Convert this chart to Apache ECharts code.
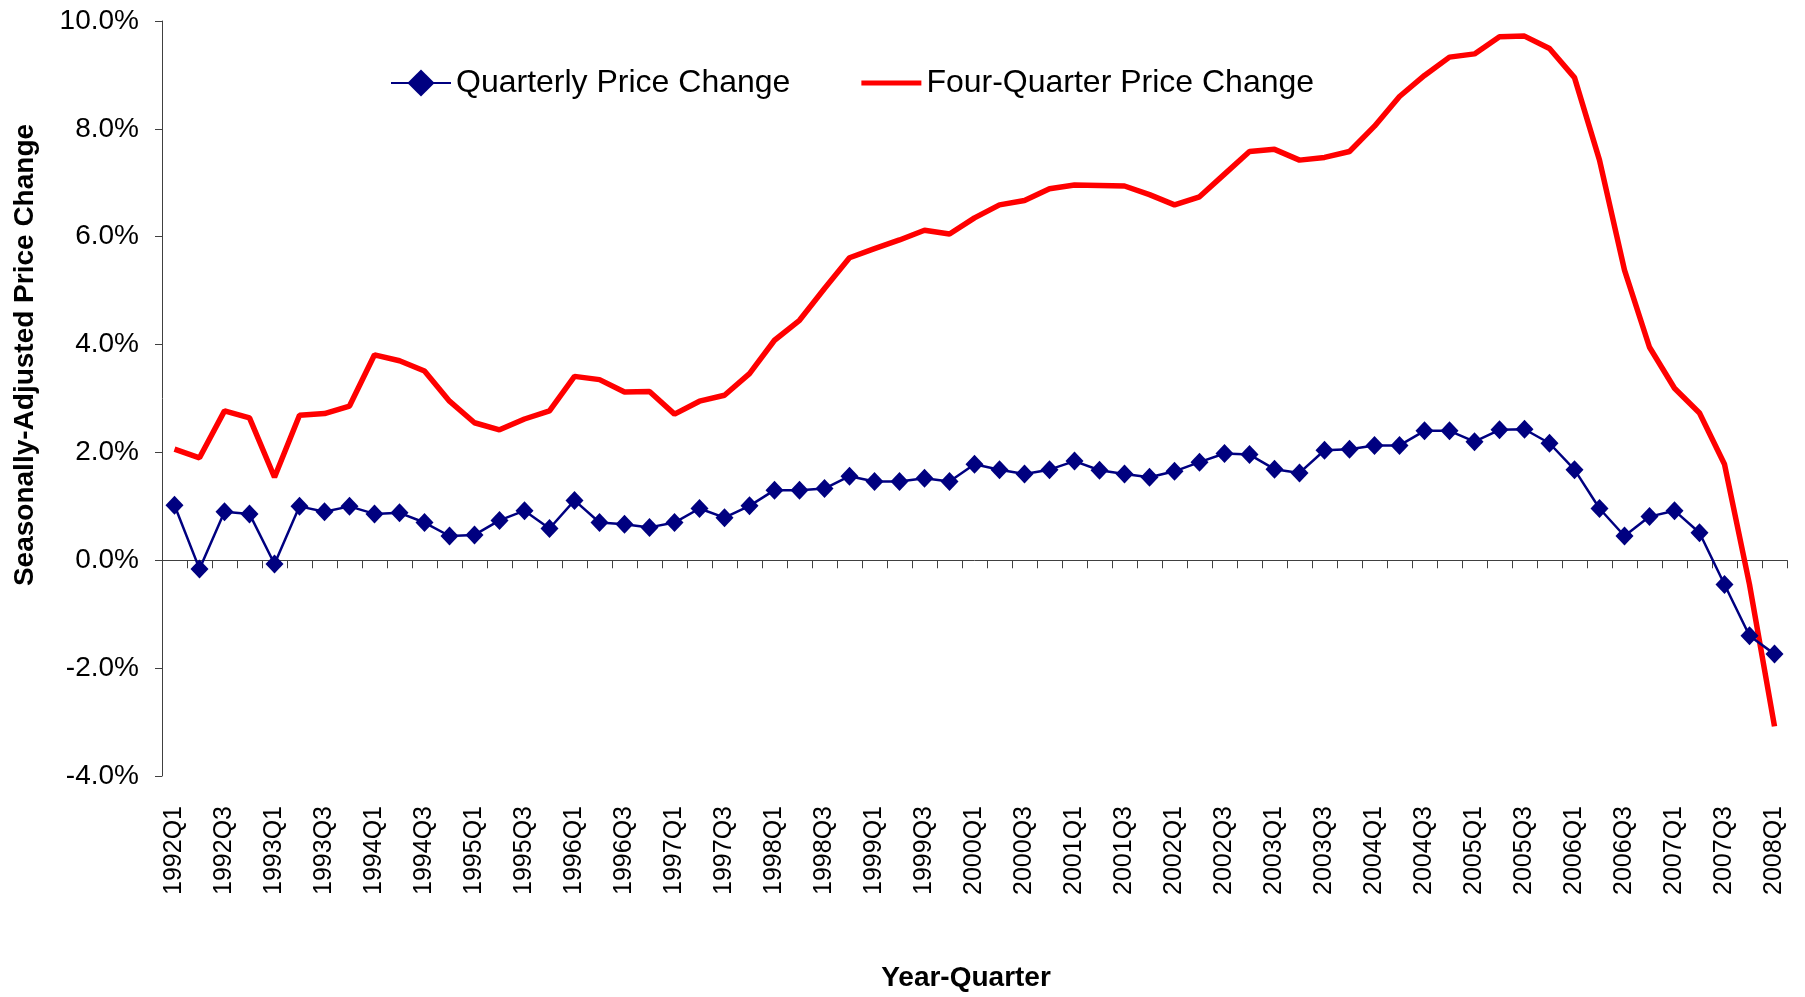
<!DOCTYPE html>
<html>
<head>
<meta charset="utf-8">
<title>Seasonally-Adjusted Price Change</title>
<script src="https://cdn.jsdelivr.net/npm/echarts@6/dist/echarts.min.js"></script>
<style>
  html, body { margin: 0; padding: 0; background: #fff; }
  #chart { width: 1805px; height: 997px; }
</style>
</head>
<body>
<div id="chart"></div>
<script>
// year-quarter categories, 1992Q1 .. 2008Q1
const quarters = [
  '1992Q1','1992Q2','1992Q3','1992Q4','1993Q1','1993Q2','1993Q3','1993Q4',
  '1994Q1','1994Q2','1994Q3','1994Q4','1995Q1','1995Q2','1995Q3','1995Q4',
  '1996Q1','1996Q2','1996Q3','1996Q4','1997Q1','1997Q2','1997Q3','1997Q4',
  '1998Q1','1998Q2','1998Q3','1998Q4','1999Q1','1999Q2','1999Q3','1999Q4',
  '2000Q1','2000Q2','2000Q3','2000Q4','2001Q1','2001Q2','2001Q3','2001Q4',
  '2002Q1','2002Q2','2002Q3','2002Q4','2003Q1','2003Q2','2003Q3','2003Q4',
  '2004Q1','2004Q2','2004Q3','2004Q4','2005Q1','2005Q2','2005Q3','2005Q4',
  '2006Q1','2006Q2','2006Q3','2006Q4','2007Q1','2007Q2','2007Q3','2007Q4',
  '2008Q1'
]

// percent values
const quarterlyChange = [
  1.02, -0.16, 0.90, 0.86, -0.07, 1.00, 0.90, 1.00,
  0.86, 0.88, 0.70, 0.45, 0.47, 0.74, 0.92, 0.59,
  1.11, 0.70, 0.67, 0.61, 0.70, 0.96, 0.79, 1.01,
  1.30, 1.30, 1.33, 1.56, 1.46, 1.46, 1.52, 1.46,
  1.78, 1.68, 1.60, 1.68, 1.84, 1.67, 1.60, 1.54,
  1.65, 1.82, 1.98, 1.96, 1.69, 1.62, 2.04, 2.06,
  2.13, 2.13, 2.40, 2.40, 2.20, 2.42, 2.43, 2.17,
  1.68, 0.96, 0.45, 0.81, 0.92, 0.51, -0.45, -1.40,
  -1.74
]

const fourQuarterChange = [
  2.06, 1.90, 2.77, 2.64, 1.54, 2.69, 2.72, 2.86,
  3.81, 3.70, 3.51, 2.95, 2.55, 2.42, 2.62, 2.77,
  3.41, 3.35, 3.12, 3.13, 2.71, 2.95, 3.06, 3.46,
  4.08, 4.45, 5.04, 5.61, 5.78, 5.94, 6.12, 6.05,
  6.35, 6.59, 6.67, 6.89, 6.96, 6.95, 6.94, 6.78,
  6.59, 6.74, 7.16, 7.58, 7.62, 7.42, 7.47, 7.58,
  8.05, 8.60, 8.99, 9.33, 9.39, 9.71, 9.72, 9.49,
  8.95, 7.42, 5.38, 3.95, 3.19, 2.73, 1.78, -0.45,
  -3.08
]

const yTicks = { min: -4, max: 10, interval: 2 }

const font = 'Liberation Sans, Arial, sans-serif'
let mychart = echarts.init(document.getElementById('chart'), null, { renderer: 'canvas' })

let options = {
  backgroundColor: '#ffffff',
  animation: false,
  textStyle: { fontFamily: font, color: '#000' },
  grid: {
    left: 162,
    right: 18,
    top: 21,
    bottom: 221
  },
  legend: {
    left: 385,
    top: 62,
    itemWidth: 60,
    itemHeight: 34,
    itemGap: 71,
    textStyle: { fontFamily: font, fontSize: 32, color: '#000' },
    data: [
      { name: 'Quarterly Price Change' },
      // plain thick line, no marker, like the series itself
      { name: 'Four-Quarter Price Change', icon: 'path://M0,0 L60,0 L60,5 L0,5 Z' }
    ]
  },
  graphic: [
    {
      type: 'text',
      x: 25,
      y: 355,
      rotation: Math.PI / 2,
      style: {
        text: 'Seasonally-Adjusted Price Change',
        font: 'bold 28px ' + font,
        fill: '#000',
        textAlign: 'center',
        textVerticalAlign: 'middle'
      }
    },
    {
      type: 'text',
      x: 966,
      y: 978,
      style: {
        text: 'Year-Quarter',
        font: 'bold 28px ' + font,
        fill: '#000',
        textAlign: 'center',
        textVerticalAlign: 'middle'
      }
    }
  ],
  xAxis: [
    {
      type: 'category',
      data: quarters,
      boundaryGap: true,
      axisLine: { onZero: true, lineStyle: { color: '#404040', width: 1 } },
      axisTick: { show: true, interval: 0, length: 8, lineStyle: { color: '#404040' } },
      axisLabel: { show: false },
      splitLine: { show: false }
    },
    {
      type: 'category',
      data: quarters,
      position: 'bottom',
      boundaryGap: true,
      axisLine: { show: false, onZero: false },
      axisTick: { show: false },
      axisLabel: {
        interval: 1,
        rotate: 90,
        margin: 30,
        fontFamily: font,
        fontSize: 25,
        color: '#000'
      },
      splitLine: { show: false }
    }
  ],
  yAxis: {
    type: 'value',
    min: yTicks.min,
    max: yTicks.max,
    interval: yTicks.interval,
    axisLine: { show: true, lineStyle: { color: '#404040', width: 1 } },
    axisTick: { show: true, length: 7, lineStyle: { color: '#404040' } },
    splitLine: { show: false },
    axisLabel: {
      margin: 23,
      fontFamily: font,
      fontSize: 28,
      color: '#000',
      formatter: v => v.toFixed(1) + '%'
    }
  },
  series: [
    {
      name: 'Quarterly Price Change',
      type: 'line',
      xAxisIndex: 0,
      data: quarterlyChange,
      symbol: 'diamond',
      symbolSize: [18, 19],
      showSymbol: true,
      showAllSymbol: true,
      itemStyle: { color: '#000080' },
      lineStyle: { color: '#000080', width: 2.5 },
      z: 3
    },
    {
      name: 'Four-Quarter Price Change',
      type: 'line',
      xAxisIndex: 0,
      data: fourQuarterChange,
      symbol: 'none',
      itemStyle: { color: '#ff0000' },
      lineStyle: { color: '#ff0000', width: 5.5 },
      z: 2
    }
  ]
}

mychart.setOption(options)
</script>
</body>
</html>
